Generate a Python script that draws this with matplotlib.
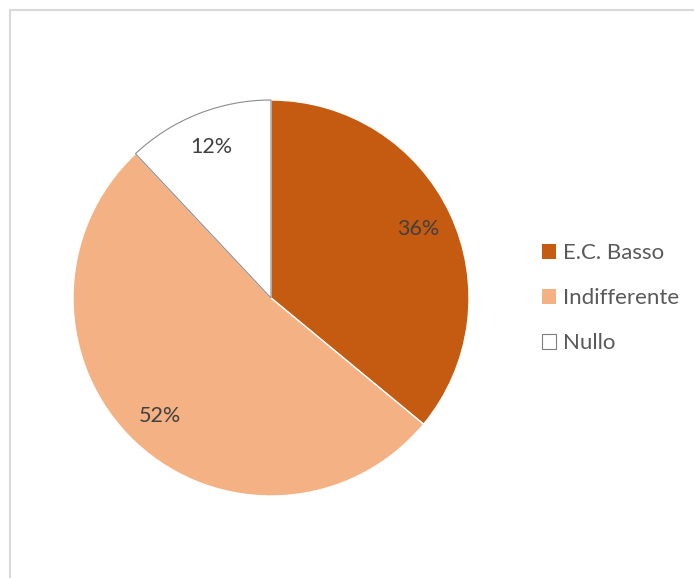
import matplotlib.pyplot as plt
from matplotlib.patches import Rectangle

# dati del grafico
categorie = ['E.C. Basso', 'Indifferente', 'Nullo']
valori = [36, 52, 12]
colori = ['#C55A11', '#F4B183', '#FFFFFF']

plt.rcParams['font.family'] = ['Lato', 'DejaVu Sans']

fig = plt.figure(figsize=(6.94, 5.78), dpi=100)

# cornice grigia del grafico (esce dall'immagine a destra e in basso)
fig.patches.append(Rectangle((10 / 694, -0.1), 1.2, 1 - 10 / 578 + 0.1,
                             transform=fig.transFigure, fill=False,
                             edgecolor='#D9D9D9', linewidth=1.5))

ax = fig.add_axes([73 / 694, 82 / 578, 396 / 694, 396 / 578])
wedges, testi, autotesti = ax.pie(
    valori, colors=colori, startangle=90, counterclock=False,
    autopct='%d%%', pctdistance=0.82,
    wedgeprops=dict(edgecolor='white', linewidth=1),
    textprops=dict(color='#404040', fontsize=15.5))
# la fetta "Nullo" ha un bordo grigio
wedges[2].set_edgecolor('#8C8C8C')
wedges[2].set_linewidth(0.8)
ax.set_xlim(-1, 1)
ax.set_ylim(-1, 1)
ax.set_aspect('equal')
ax.axis('off')

leg = fig.legend(wedges, categorie, loc='center left',
                 bbox_to_anchor=(522 / 694, (578 - 298) / 578),
                 frameon=False, fontsize=16, handlelength=0.65,
                 handleheight=0.65, handletextpad=0.3, labelspacing=1.13)
for t in leg.get_texts():
    t.set_color('#595959')
for h in leg.legend_handles:
    h.set_edgecolor('#7F7F7F' if h.get_facecolor()[0] == 1 else 'none')
    h.set_linewidth(0.8)

fig.savefig('out.png', dpi=100)
